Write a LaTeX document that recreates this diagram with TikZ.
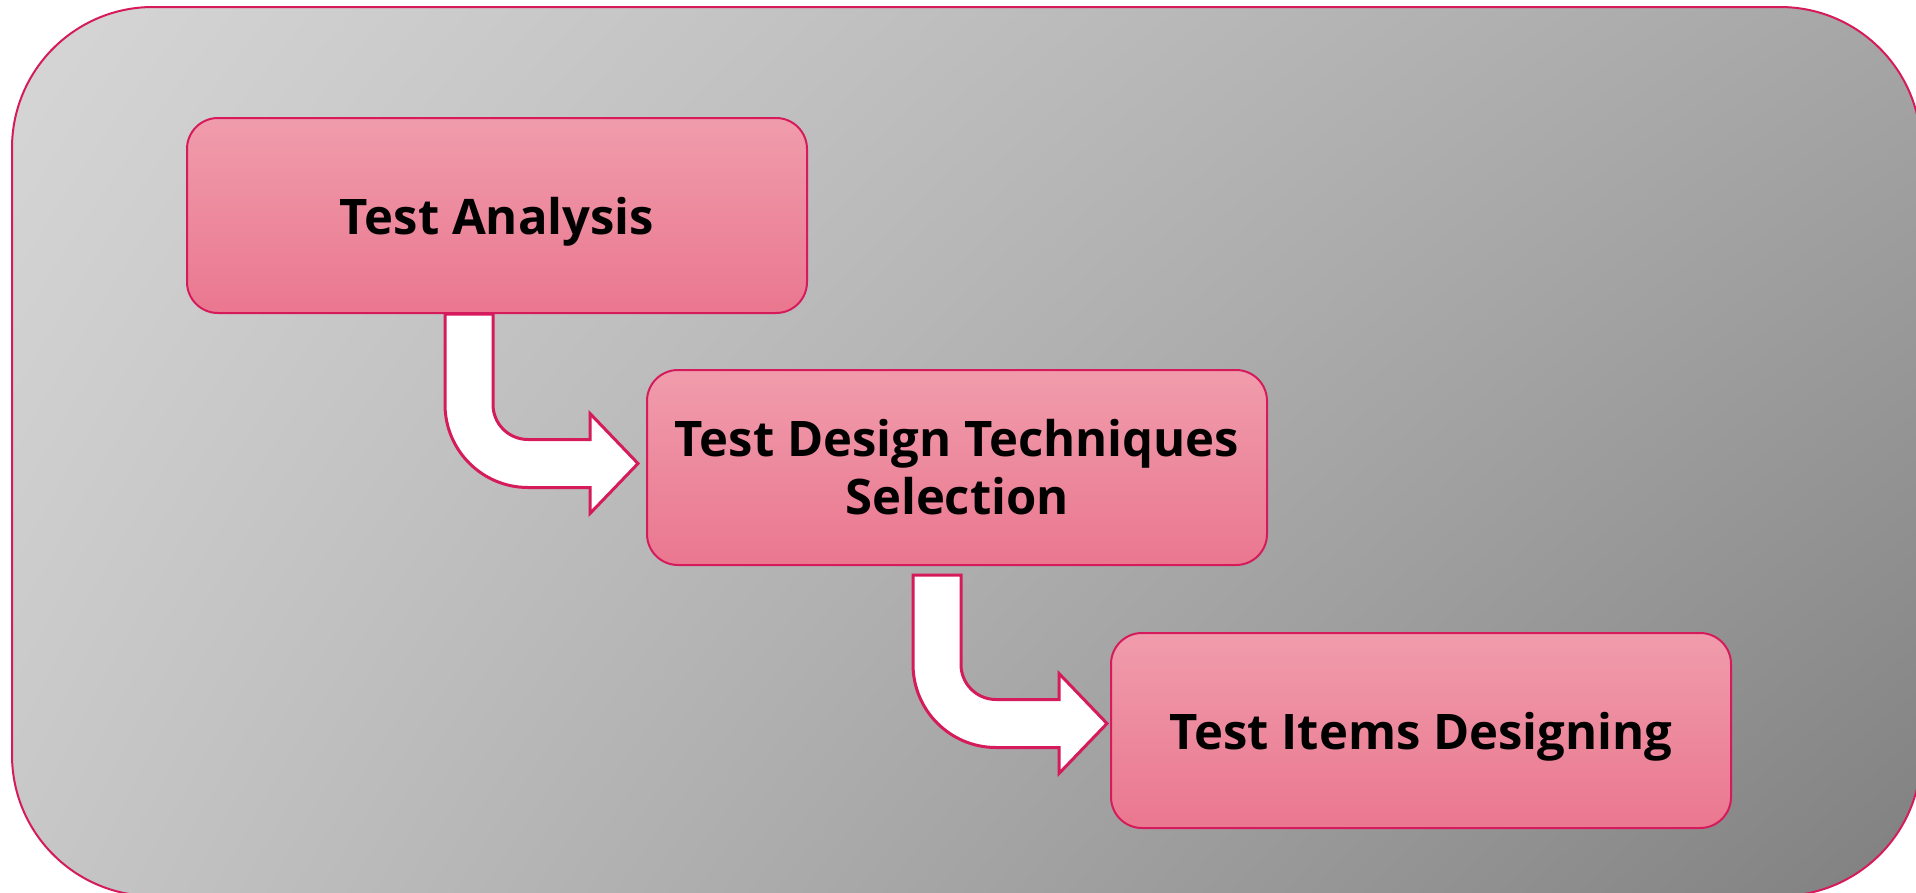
\documentclass[tikz,border=0pt]{standalone}
\usepackage{fontspec}
\setmainfont{Open Sans}
\usetikzlibrary{positioning,calc,shadings}

\definecolor{edge}{HTML}{D61B5C}
\definecolor{boxtop}{HTML}{F09CAC}
\definecolor{boxbot}{HTML}{EA778F}

\tikzset{
  stage/.style={draw=edge, line width=2pt, rounded corners=31pt,
    top color=boxtop, bottom color=boxbot,
    minimum width=620pt, minimum height=195pt, align=center,
    font=\fontsize{49}{58}\selectfont\bfseries},
  oneline/.style={text depth=0pt},
  flowarrow/.style={draw=edge, fill=white, line width=3pt, line join=miter}
}

\newcommand{\bentarrow}[2]{%
  \draw[flowarrow] let \p1=(#1), \p2=(#2) in
    (\x1-24pt,\y1) -- (\x1+24pt,\y1) -- (\x1+24pt,\y2+59pt)
    arc[start angle=180, end angle=270, radius=35pt]
    -- (\x2-48pt,\y2+24pt) -- (\x2-48pt,\y2+50pt) -- (\x2,\y2)
    -- (\x2-48pt,\y2-50pt) -- (\x2-48pt,\y2-24pt) -- (\x1+59pt,\y2-24pt)
    arc[start angle=270, end angle=180, radius=83pt] -- cycle;}

\begin{document}
\begin{tikzpicture}[x=1pt,y=-1pt]
\useasboundingbox (0,0) rectangle (1916,892);

% background frame
\shade[upper left=black!16, upper right=black!35, lower left=black!22, lower right=black!50,
  rounded corners=141pt] (12,7) rectangle (1921,896);
\draw[edge, line width=2pt, rounded corners=141pt] (12,7) rectangle (1921,896);

\node[stage, oneline] (ta) at (497,215.5) {Test Analysis};
\node[stage, below right=55pt and -162pt of ta] (tdt) {Test Design Techniques\\Selection};
\node[stage, oneline, below right=66pt and -158pt of tdt] (tid) {Test Items Designing};

\coordinate (a1s) at ([xshift=283pt]ta.south west);
\coordinate (a1e) at ([xshift=-8pt,yshift=4pt]tdt.west);
\coordinate (a2s) at ([xshift=291pt,yshift=-9pt]tdt.south west);
\coordinate (a2e) at ([xshift=-3pt,yshift=7pt]tid.west);

\bentarrow{a1s}{a1e}
\bentarrow{a2s}{a2e}

\end{tikzpicture}
\end{document}
